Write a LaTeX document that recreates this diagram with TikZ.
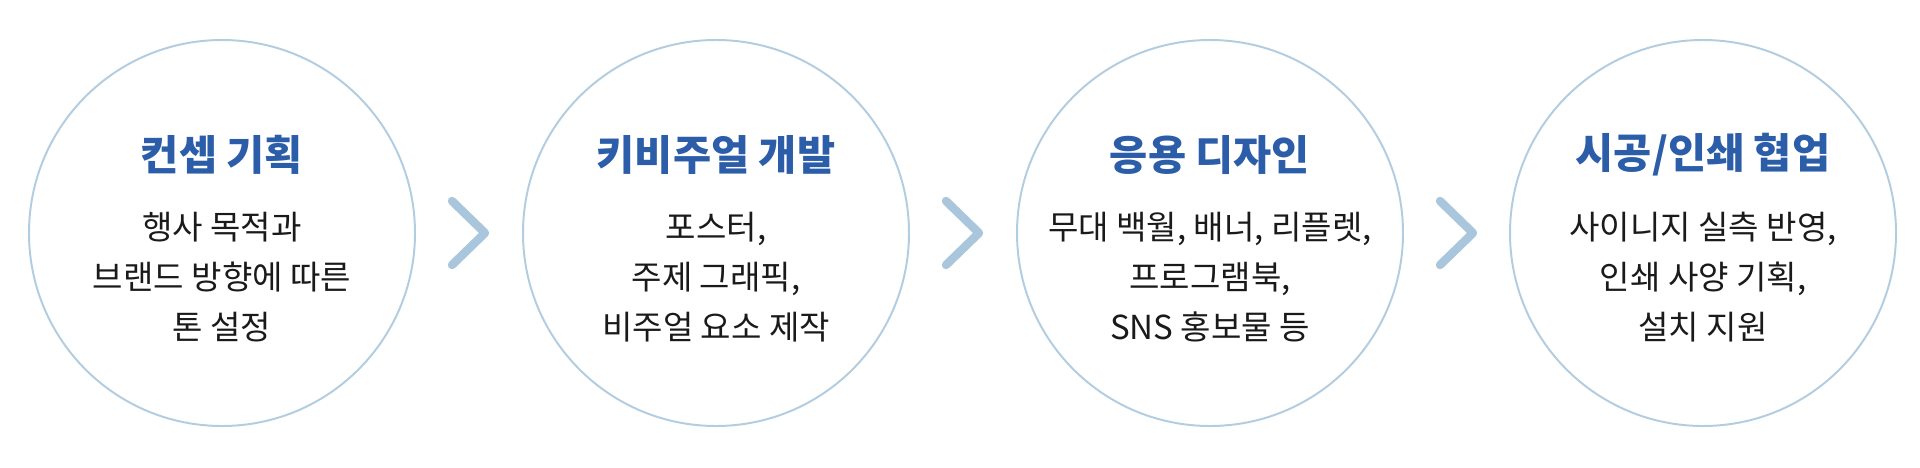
\documentclass[tikz,border=0pt]{standalone}
\usepackage{fontspec}
\setmainfont{Noto Sans CJK KR}
\definecolor{ring}{HTML}{B3CDE0}
\definecolor{chev}{HTML}{A9C6DC}
\definecolor{ttl}{HTML}{2C5DA8}
\definecolor{txt}{HTML}{1A1A1A}
\begin{document}
\begin{tikzpicture}[x=0.025cm,y=-0.025cm,
  ringc/.style={draw=ring,line width=1.4pt,circle,minimum size=386*0.025cm,inner sep=0pt},
  ttlnode/.style={text=ttl,font=\fontsize{29.5}{34}\selectfont\bfseries},
  body/.style={text=txt,font=\fontsize{23.5}{35.5}\selectfont,align=center},
  chevron/.style={draw=chev,line width=6pt,line cap=round,line join=round}]
\useasboundingbox (0,0) rectangle (1920,467);
\foreach \i/\x/\t/\b in {
 1/222/{컨셉 기획}/{행사 목적과\\브랜드 방향에 따른\\톤 설정},
 2/716/{키비주얼 개발}/{포스터,\\주제 그래픽,\\비주얼 요소 제작},
 3/1210/{응용 디자인}/{무대 백월, 배너, 리플렛,\\프로그램북,\\SNS 홍보물 등},
 4/1703/{시공/인쇄 협업}/{사이니지 실측 반영,\\인쇄 사양 기획,\\설치 지원}}{
  \node[ringc] (c\i) at (\x,233) {};
  \node[ttlnode] (t\i) at (\x,155) {\t};
  \node[body] (b\i) at (\x,277) {\b};
}
\foreach \i/\x in {1/469,2/963,3/1457}{
  \coordinate (a\i) at (\x-17,201);
  \coordinate (m\i) at (\x+16,233);
  \coordinate (z\i) at (\x-17,265);
  \draw[chevron] (a\i) -- (m\i) -- (z\i);
}
\end{tikzpicture}
\end{document}
